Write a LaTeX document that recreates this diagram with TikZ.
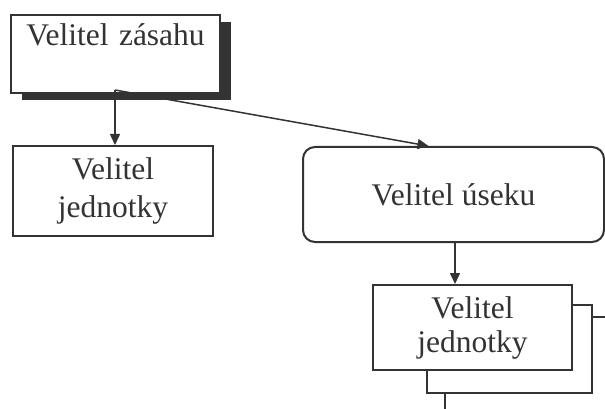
\documentclass[tikz,border=0pt]{standalone}
\usepackage{fontspec}
\setmainfont{Liberation Serif}
\usetikzlibrary{arrows.meta,shadows}
\definecolor{ink}{HTML}{333333}
\begin{document}
\begin{tikzpicture}[x=1pt,y=-1pt,
  box/.style={draw=ink, line width=2pt, fill=white, inner sep=0pt,
    text=ink, align=center, font=\fontsize{31.5}{38}\selectfont},
  link/.style={draw=ink, line width=1.5pt, -{Triangle[length=11pt,width=10pt]}},
  wire/.style={draw=ink, line width=1.5pt}]
\useasboundingbox (0,0) rectangle (605,409);

% commander of the operation, with a solid drop shadow
\node[box, anchor=north west, text width=209pt, text height=31pt, text depth=47pt,
  drop shadow={shadow xshift=10.5pt, shadow yshift=-7pt, fill=ink, opacity=1}]
  (chief) at (10,14) {Velitel zásahu};

% unit commander on the left
\node[box, minimum width=200pt, minimum height=90pt] (unitL) at (113,191)
  {Velitel\\jednotky};

% sector commander
\node[box, rounded corners=12pt, minimum width=301pt, minimum height=95pt]
  (sector) at (453.5,194.5) {Velitel úseku};

% stacked unit commanders under the sector
\node[box, minimum width=165pt, minimum height=88pt] (unitBack) at (509.5,349) {};
\node[box, minimum width=199pt, minimum height=85pt,
  font=\fontsize{31.5}{34}\selectfont] (unitR) at (472.5,327.5) {Velitel\\jednotky};

% connectors
\coordinate (src) at (115,90);
\draw[link] (src) -- (src |- unitL.north);
\draw[link] (src) -- ([xshift=-25pt]sector.north);
\draw[link] ([xshift=1.5pt]sector.south) -- ([xshift=1.5pt]sector.south |- unitR.north);

\coordinate (exitR) at (606,317);
\coordinate (exitB) at (445,410);
\draw[wire] (unitBack.east |- exitR) -- (exitR);
\draw[wire] (exitB |- unitBack.south) -- (exitB);
\end{tikzpicture}
\end{document}
